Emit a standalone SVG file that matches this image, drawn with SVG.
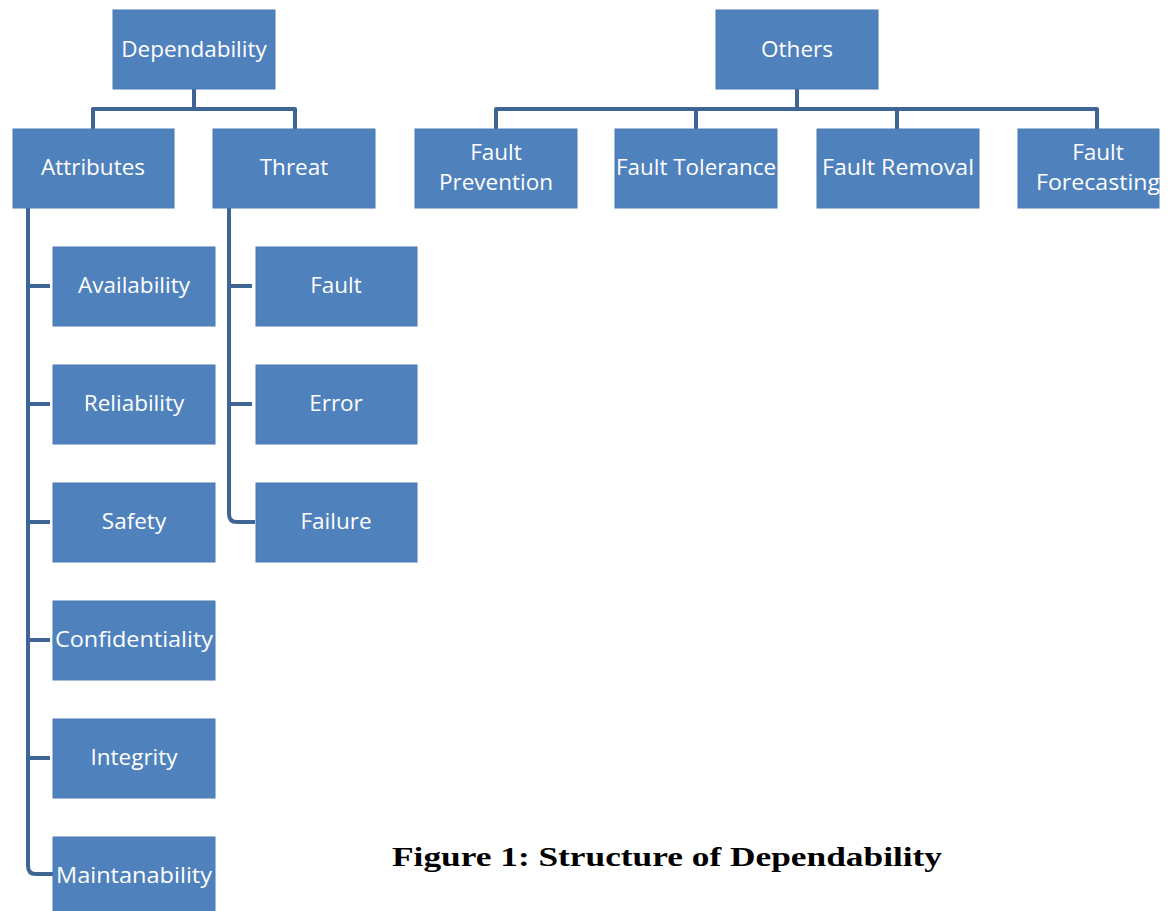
<svg xmlns="http://www.w3.org/2000/svg" width="1171" height="911" viewBox="0 0 1171 911">
<style>
.box{fill:#4f81bd;stroke:#4a7ab5;stroke-width:1}
.lbl{font-family:"Open Sans","Liberation Sans",sans-serif;font-size:22.5px;fill:#ffffff;text-anchor:middle}
.cn{fill:none;stroke:#3f6594;stroke-width:4;stroke-linejoin:round}
.cap{font-family:"Liberation Serif",serif;font-weight:bold;font-size:28px;fill:#000}
</style>
<rect width="1171" height="911" fill="#ffffff"/>
<g id="connectors">
<path class="cn" d="M194 89 V109 M93 129 V109 H295 V129"/>
<path class="cn" d="M797 89 V109 M496 129 V109 H1097 V129 M696 109 V129 M897 109 V129"/>
<path class="cn" d="M28 208 V866 Q28 874 36 874 H53 M28 286 H50 M28 404 H50 M28 522 H50 M28 640 H50 M28 758 H50"/>
<path class="cn" d="M229 208 V514 Q229 522 237 522 H255 M229 286 H252 M229 404 H252"/>
</g>
<g id="dependability"><rect class="box" x="113" y="10" width="162" height="79"/><text class="lbl" x="194" y="57">Dependability</text></g>
<g id="others"><rect class="box" x="716" y="10" width="162" height="79"/><text class="lbl" x="797" y="57">Others</text></g>
<g id="attributes"><rect class="box" x="13" y="129" width="161" height="79"/><text class="lbl" x="93" y="175">Attributes</text></g>
<g id="threat"><rect class="box" x="213" y="129" width="162" height="79"/><text class="lbl" x="294" y="175">Threat</text></g>
<g id="fault-prevention"><rect class="box" x="415" y="129" width="162" height="79"/><text class="lbl" x="496" y="160">Fault</text><text class="lbl" x="496" y="190">Prevention</text></g>
<g id="fault-tolerance"><rect class="box" x="615" y="129" width="162" height="79"/><text class="lbl" x="696" y="175" textLength="160" lengthAdjust="spacingAndGlyphs">Fault Tolerance</text></g>
<g id="fault-removal"><rect class="box" x="817" y="129" width="162" height="79"/><text class="lbl" x="898" y="175" textLength="152" lengthAdjust="spacingAndGlyphs">Fault Removal</text></g>
<g id="fault-forecasting"><rect class="box" x="1018" y="129" width="141" height="79"/><text class="lbl" x="1098" y="160">Fault</text><text class="lbl" x="1098" y="190" textLength="124" lengthAdjust="spacingAndGlyphs">Forecasting</text></g>
<g id="availability"><rect class="box" x="53" y="247" width="162" height="79"/><text class="lbl" x="134" y="293">Availability</text></g>
<g id="reliability"><rect class="box" x="53" y="365" width="162" height="79"/><text class="lbl" x="134" y="411">Reliability</text></g>
<g id="safety"><rect class="box" x="53" y="483" width="162" height="79"/><text class="lbl" x="134" y="529">Safety</text></g>
<g id="confidentiality"><rect class="box" x="53" y="601" width="162" height="79"/><text class="lbl" x="134" y="647" textLength="158" lengthAdjust="spacingAndGlyphs">Confidentiality</text></g>
<g id="integrity"><rect class="box" x="53" y="719" width="162" height="79"/><text class="lbl" x="134" y="765">Integrity</text></g>
<g id="maintanability"><rect class="box" x="53" y="837" width="162" height="79"/><text class="lbl" x="134" y="883" textLength="156" lengthAdjust="spacingAndGlyphs">Maintanability</text></g>
<g id="fault"><rect class="box" x="256" y="247" width="161" height="79"/><text class="lbl" x="336" y="293">Fault</text></g>
<g id="error"><rect class="box" x="256" y="365" width="161" height="79"/><text class="lbl" x="336" y="411">Error</text></g>
<g id="failure"><rect class="box" x="256" y="483" width="161" height="79"/><text class="lbl" x="336" y="529">Failure</text></g>
<text class="cap" x="392" y="866" textLength="550" lengthAdjust="spacingAndGlyphs">Figure 1: Structure of Dependability</text>
</svg>
